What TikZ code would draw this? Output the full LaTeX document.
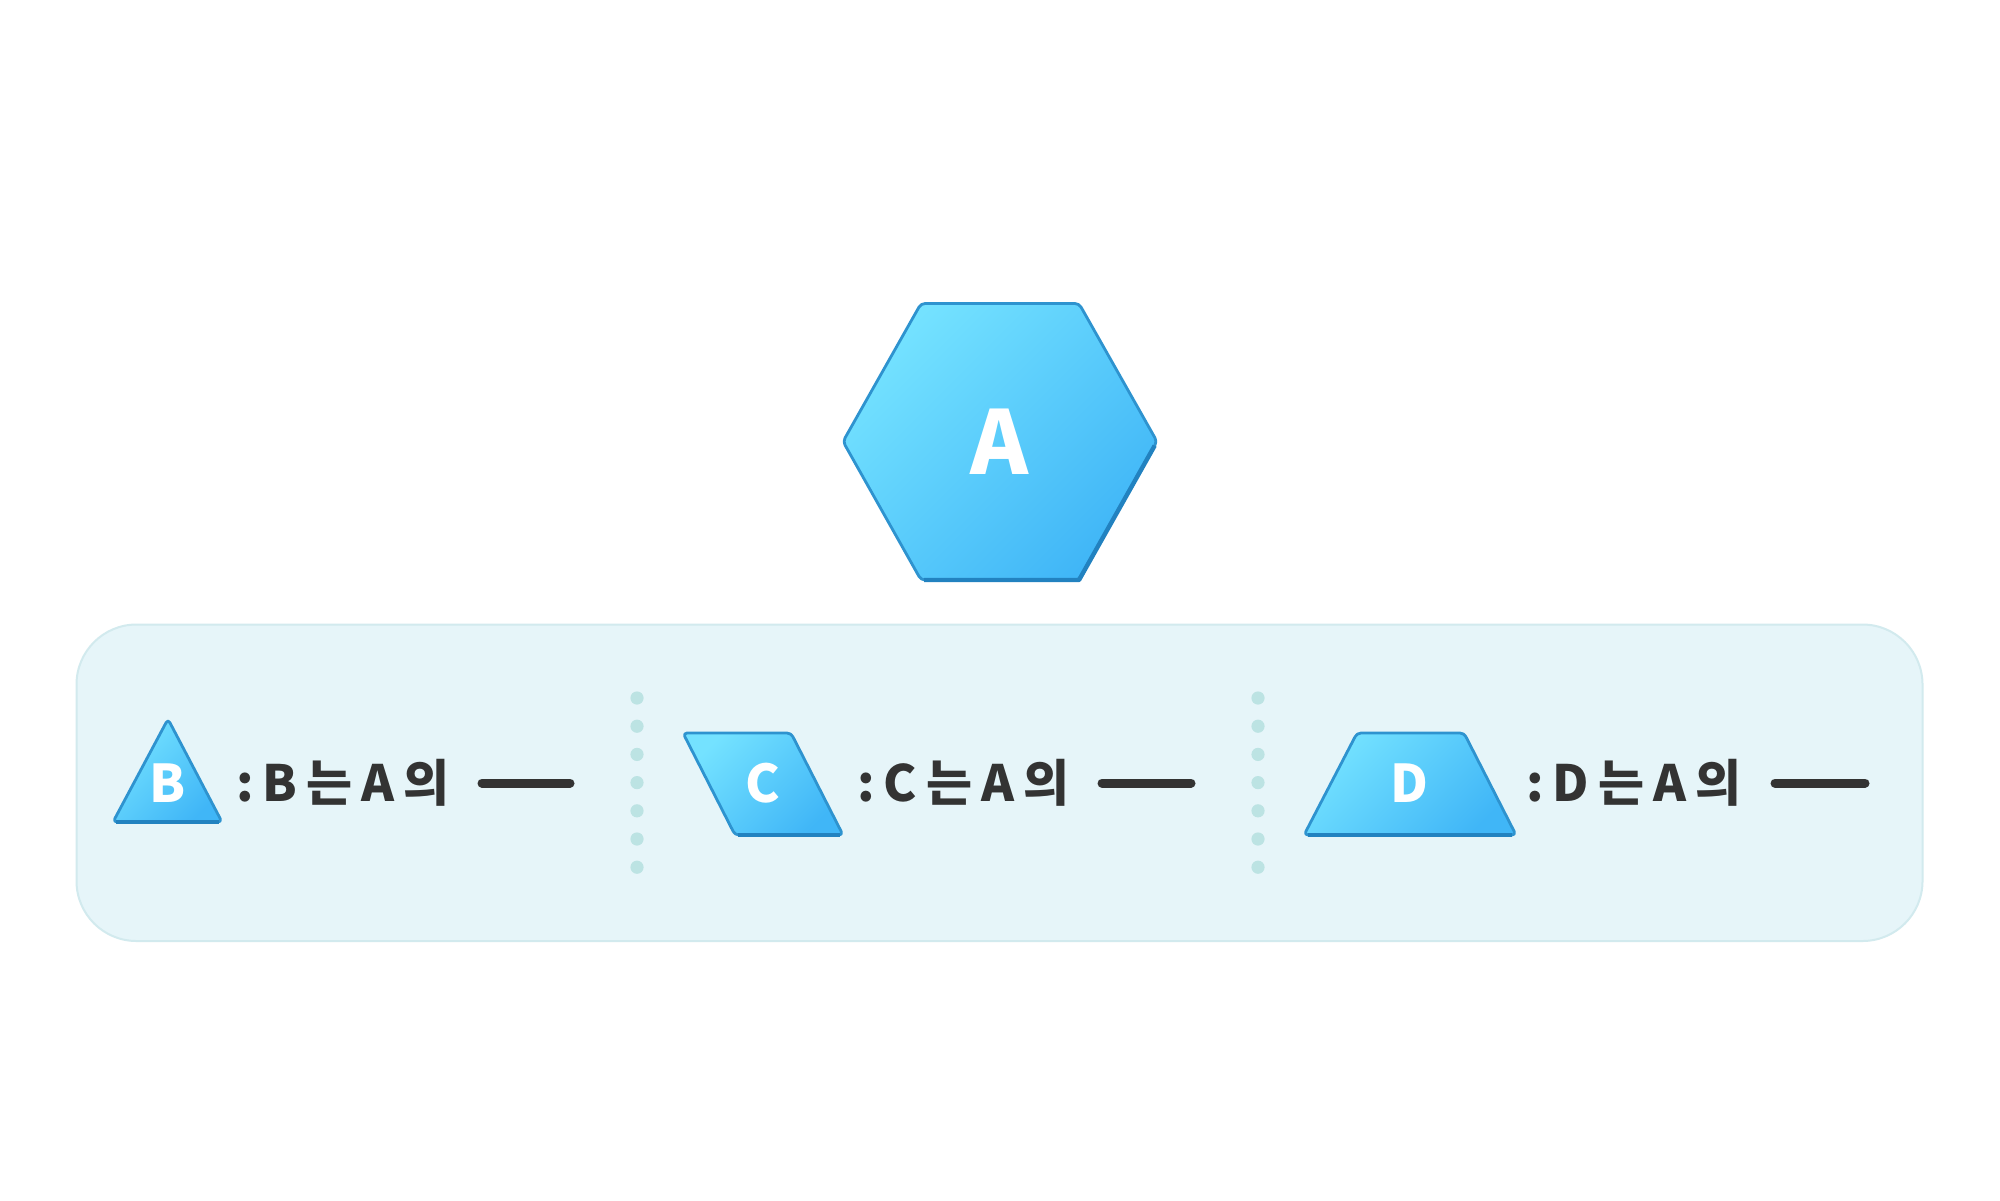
\documentclass[tikz,border=0pt]{standalone}
\usepackage{fontspec}
\usetikzlibrary{calc}
\newfontfamily\kr{Noto Sans CJK KR}
\definecolor{lite}{HTML}{74E2FF}
\definecolor{deep}{HTML}{40B6F7}
\definecolor{edge}{HTML}{2E93CF}
\definecolor{edgedark}{HTML}{2282C0}
\definecolor{panelfill}{HTML}{E6F5F9}
\definecolor{panelline}{HTML}{D2EAEE}
\definecolor{dotc}{HTML}{BCE3E3}
\definecolor{ink}{HTML}{333333}
\tikzset{
  shapefill/.style={top color=lite, bottom color=deep, shading angle=45, draw=edge, line width=1.4pt, rounded corners=2pt, line join=round},
  baseedge/.style={draw=edgedark, line width=2.2pt, line cap=butt, line join=round},
  bigletter/.style={font=\kr\bfseries\fontsize{44}{44}\selectfont, text=white, inner sep=0pt},
  letter/.style={font=\kr\bfseries\fontsize{26}{26}\selectfont, text=white, inner sep=0pt},
  caption/.style={font=\kr\bfseries\fontsize{25}{25}\selectfont, text=ink, inner sep=0pt, anchor=west},
  blank/.style={draw=ink, line width=4.5pt, line cap=round},
  panel/.style={fill=panelfill, draw=panelline, line width=1pt, rounded corners=30pt},
  sepdot/.style={fill=dotc}
}
\newcommand{\kgap}{\hspace{4.5pt}}
\begin{document}
\begin{tikzpicture}[x=0.5pt, y=-0.5pt]
\useasboundingbox (0,0) rectangle (2000,1200);
\fill[white] (0,0) rectangle (2000,1200);

% hexagon A
\coordinate (h1) at (843,441.5);
\coordinate (h2) at (921,303.5);
\coordinate (h3) at (1079,303.5);
\coordinate (h4) at (1157,441.5);
\coordinate (h5) at (1079,580);
\coordinate (h6) at (921,580);
\path[shapefill] (h1) -- (h2) -- (h3) -- (h4) -- (h5) -- (h6) -- cycle;
\draw[baseedge] ($(h4)!0.03!(h5)$) -- (h5) -- ($(h6)!0.02!(h5)$);
\node[bigletter] (la) at (1000,441.5) {A};

% panel
\path[panel] (76.5,624.5) rectangle (1922.5,941);

% separators
\foreach \i in {0,...,6} {
  \fill[sepdot] (637,698+28.2*\i) circle (3.3pt);
  \fill[sepdot] (1258,698+28.2*\i) circle (3.3pt);
}

% triangle B
\coordinate (t1) at (168,719);
\coordinate (t2) at (222,822);
\coordinate (t3) at (113,822);
\path[shapefill] (t1) -- (t2) -- (t3) -- cycle;
\draw[baseedge] ($(t2)!0.03!(t3)$) -- ($(t3)!0.03!(t2)$);
\node[letter] (lb) at (168,783) {B};
\node[caption] (cb) at (236,783) {:\kgap B\kgap 는\kgap A\kgap 의};
\coordinate (bs) at (482,783);
\coordinate (be) at (570,783);
\draw[blank] (bs) -- (be);

% parallelogram C
\coordinate (p1) at (683,733);
\coordinate (p2) at (791,733);
\coordinate (p3) at (843,835);
\coordinate (p4) at (735,835);
\path[shapefill] (p1) -- (p2) -- (p3) -- (p4) -- cycle;
\draw[baseedge] ($(p3)!0.03!(p4)$) -- ($(p4)!0.03!(p3)$);
\node[letter] (lc) at (763,783) {C};
\node[caption] (cc) at (857,783) {:\kgap C\kgap 는\kgap A\kgap 의};
\coordinate (cs) at (1102,783);
\coordinate (ce) at (1191,783);
\draw[blank] (cs) -- (ce);

% trapezoid D
\coordinate (d1) at (1357,733);
\coordinate (d2) at (1464,733);
\coordinate (d3) at (1516,835);
\coordinate (d4) at (1304,835);
\path[shapefill] (d1) -- (d2) -- (d3) -- (d4) -- cycle;
\draw[baseedge] ($(d3)!0.02!(d4)$) -- ($(d4)!0.02!(d3)$);
\node[letter] (ld) at (1409,783) {D};
\node[caption] (cd) at (1526,783) {:\kgap D\kgap 는\kgap A\kgap 의};
\coordinate (ds) at (1775,783);
\coordinate (de) at (1865,783);
\draw[blank] (ds) -- (de);
\end{tikzpicture}
\end{document}
